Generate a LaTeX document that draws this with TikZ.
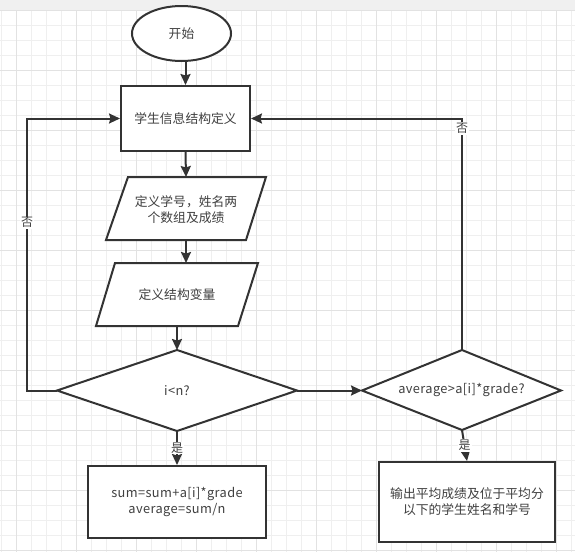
\documentclass[tikz,border=0pt]{standalone}
\usepackage{fontspec}
\setmainfont{Noto Sans CJK SC}
\newfontfamily\latinfont[LetterSpace=3]{Noto Sans CJK SC}
\usetikzlibrary{arrows.meta,shapes.geometric}
\definecolor{ink}{HTML}{333333}
\definecolor{txt}{HTML}{404040}
\definecolor{gminor}{HTML}{EFEFEF}
\definecolor{gmajor}{HTML}{E2E2E2}
\definecolor{topbar}{HTML}{F0F0F0}
\tikzset{
  shapeline/.style={draw=ink, line width=2pt, fill=white},
  conn/.style={draw=ink, line width=2pt, -{Stealth[length=11pt,width=10pt,inset=1.5pt]}},
  lbl/.style={text=txt, font=\fontsize{12.8}{16}\selectfont, align=center},
  latlbl/.style={text=txt, font=\latinfont\fontsize{12.8}{16}\selectfont, align=center},
  edgelbl/.style={text=txt, font=\fontsize{12}{14}\selectfont, fill=white, inner sep=1pt},
}
\begin{document}
\begin{tikzpicture}[x=1pt,y=-1pt]
\useasboundingbox (0,0) rectangle (575,552);
\fill[white] (0,0) rectangle (575,552);
\fill[topbar] (0,0) rectangle (575,10);
% grid
\foreach \i in {0,...,38} \draw[gminor, line width=0.8pt] ({1+15*\i},10) -- ({1+15*\i},552);
\foreach \j in {0,...,36} \draw[gminor, line width=0.8pt] (0,{10+15*\j}) -- (575,{10+15*\j});
\foreach \i in {0,...,9} \draw[gmajor, line width=0.8pt] ({16+60*\i},10) -- ({16+60*\i},552);
\foreach \j in {0,...,9} \draw[gmajor, line width=0.8pt] (0,{10+60*\j}) -- (575,{10+60*\j});

% start
\node[ellipse, shapeline, minimum width=99pt, minimum height=55pt, inner sep=0pt, lbl] (start) at (181.5,33.5) {开始};
% rect1
\node[rectangle, shapeline, minimum width=129pt, minimum height=65pt, inner sep=0pt, lbl] (r1) at (185.5,118.5) {学生信息结构定义};
% para1
\draw[shapeline] (128,177) -- (266,177) -- (246,240) -- (106,240) -- cycle;
\coordinate (p1t) at (186,177);
\coordinate (p1b) at (186,240);
\node[lbl] (p1) at (186,210) {定义学号，姓名两\\个数组及成绩};
% para2
\draw[shapeline] (115,263) -- (258,263) -- (238,326) -- (96,326) -- cycle;
\coordinate (p2t) at (186,263);
\coordinate (p2b) at (177,326);
\node[lbl] (p2) at (177,295) {定义结构变量};
% diamond1
\draw[shapeline] (177,350) -- (297,390.5) -- (177,431) -- (57,390.5) -- cycle;
\coordinate (d1t) at (177,350);
\coordinate (d1r) at (297,390.5);
\coordinate (d1b) at (177,431);
\coordinate (d1l) at (57,390.5);
\node[latlbl] (d1) at (177,391) {i<n?};
% diamond2
\draw[shapeline] (462,350) -- (561,390.5) -- (462,430) -- (362,390.5) -- cycle;
\coordinate (d2t) at (462,350);
\coordinate (d2b) at (462,430);
\coordinate (d2l) at (362,390.5);
\node[latlbl] (d2) at (461.5,390) {average>a[i]*grade?};
% rect2
\node[rectangle, shapeline, minimum width=178pt, minimum height=72pt, inner sep=0pt, latlbl] (r2) at (177,502) {sum=sum+a[i]*grade\\average=sum/n};
% rect3
\node[rectangle, shapeline, minimum width=176pt, minimum height=80pt, inner sep=0pt, lbl] (r3) at (467,502) {输出平均成绩及位于平均分\\以下的学生姓名和学号};

% connectors
\draw[conn] (start.south -| r1.north) -- (r1.north);
\draw[conn] (r1.south) -- (p1t);
\draw[conn] (p1b) -- (p2t);
\draw[conn] (p2b) -- (d1t);
\draw[conn] (d1r) -- (d2l);
\draw[conn] (d1b) -- node[edgelbl] (yes1) {是} (r2.north);
\draw[conn] (d2b) -- node[edgelbl] (yes2) {是} (r3.north);
\coordinate (lc) at (27,390.5);
\draw[conn] (d1l) -- (lc) |- (r1.west);
\coordinate (rc) at (462,118.5);
\draw[conn] (d2t) -- (rc) -- (r1.east);
\node[edgelbl] (no1) at (27,222.7) {否};
\node[edgelbl] (no2) at (462,128.5) {否};
\end{tikzpicture}
\end{document}
